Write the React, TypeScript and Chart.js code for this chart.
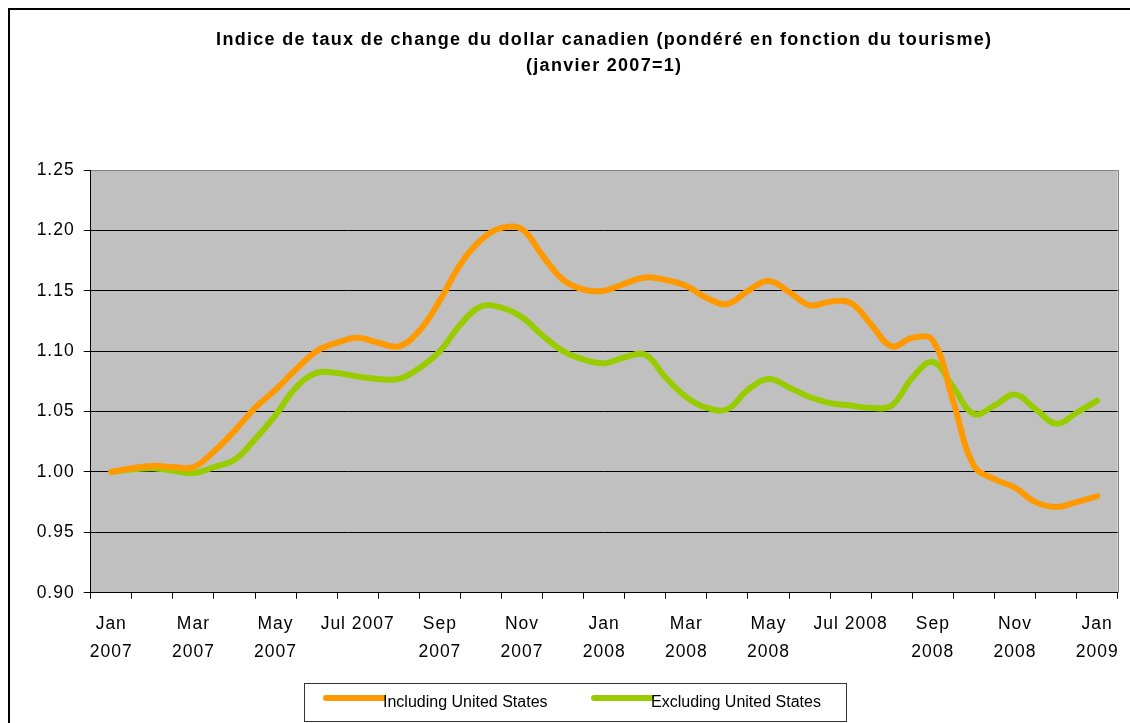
import React, { useEffect, useRef } from "react";
import { Chart, registerables } from "chart.js";

Chart.register(...registerables);

const titleLines = [
  "Indice de taux de change du dollar canadien (pondéré en fonction du tourisme)",
  "(janvier 2007=1)",
];

// positions in months from Jan 2007 (0) to Jan 2009 (24)
const monthPos = [
  0, 0.5, 1, 1.5, 2, 2.5, 3, 3.5, 4, 4.5, 5, 5.5, 6, 6.5, 7, 7.5, 8, 8.5, 9, 9.5,
  10, 10.5, 11, 11.5, 12, 12.5, 13, 13.5, 14, 14.5, 15, 15.5, 16, 16.5, 17, 17.5,
  18, 18.5, 19, 19.5, 20, 20.5, 21, 21.5, 22, 22.5, 23, 23.5, 24,
];

const includingUS = [
  1.0, 1.003, 1.005, 1.004, 1.004, 1.017, 1.034, 1.053, 1.068, 1.085, 1.1, 1.107,
  1.111, 1.107, 1.104, 1.117, 1.142, 1.172, 1.192, 1.202, 1.201, 1.179, 1.159,
  1.151, 1.15, 1.156, 1.161, 1.159, 1.154, 1.144, 1.139, 1.15, 1.158, 1.149,
  1.138, 1.141, 1.14, 1.122, 1.104, 1.111, 1.109, 1.058, 1.005, 0.994, 0.987,
  0.975, 0.971, 0.975, 0.98,
];

const excludingUS = [
  1.0, 1.002, 1.003, 1.001, 0.999, 1.004, 1.01, 1.027, 1.047, 1.07, 1.082, 1.082,
  1.079, 1.077, 1.077, 1.086, 1.1, 1.122, 1.137, 1.136, 1.128, 1.113, 1.1, 1.093,
  1.09, 1.095, 1.097, 1.078, 1.062, 1.053, 1.052, 1.068, 1.077, 1.07, 1.062,
  1.057, 1.055, 1.053, 1.055, 1.078, 1.091, 1.07, 1.048, 1.055, 1.064, 1.052,
  1.04, 1.049, 1.059,
];

const seriesNames = ["Including United States", "Excluding United States"];
const seriesColors = ["#FF9900", "#99CC00"];

const xLabelPos = [0, 2, 4, 6, 8, 10, 12, 14, 16, 18, 20, 22, 24];
const xLabels: (string | string[])[] = [
  ["Jan", "2007"],
  ["Mar", "2007"],
  ["May", "2007"],
  "Jul 2007",
  ["Sep", "2007"],
  ["Nov", "2007"],
  ["Jan", "2008"],
  ["Mar", "2008"],
  ["May", "2008"],
  "Jul 2008",
  ["Sep", "2008"],
  ["Nov", "2008"],
  ["Jan", "2009"],
];

const yTicks = [0.9, 0.95, 1.0, 1.05, 1.1, 1.15, 1.2, 1.25];

const FONT = "'Liberation Sans', Arial, Helvetica, sans-serif";
const SPACING = "1px";

const spacingPlugin = {
  id: "spacing",
  beforeUpdate(chart: any) {
    chart.ctx.letterSpacing = SPACING;
  },
  beforeDraw(chart: any) {
    chart.ctx.letterSpacing = SPACING;
  },
};

const plotBgPlugin = {
  id: "plotBg",
  beforeDraw(chart: any) {
    const { ctx, chartArea } = chart;
    ctx.save();
    ctx.fillStyle = "#C0C0C0";
    ctx.fillRect(chartArea.left, chartArea.top, chartArea.right - chartArea.left, chartArea.bottom - chartArea.top);
    ctx.strokeStyle = "#808080";
    ctx.lineWidth = 1;
    ctx.beginPath();
    const r = Math.round(chartArea.right) + 0.5;
    ctx.moveTo(r, chartArea.top);
    ctx.lineTo(r, chartArea.bottom);
    ctx.stroke();
    ctx.restore();
  },
};

const titlePlugin = {
  id: "customTitle",
  afterDraw(chart: any) {
    const { ctx, chartArea } = chart;
    const cx = (chartArea.left + chartArea.right) / 2;
    ctx.save();
    ctx.letterSpacing = "1.3px";
    ctx.fillStyle = "#000";
    ctx.font = `bold 18px ${FONT}`;
    ctx.textAlign = "center";
    ctx.textBaseline = "middle";
    ctx.fillText(titleLines[0], cx, 30);
    ctx.fillText(titleLines[1], cx, 56);
    ctx.restore();
  },
};

const legendPlugin = {
  id: "customLegend",
  afterDraw(chart: any) {
    const ctx = chart.ctx;
    ctx.save();
    ctx.letterSpacing = "0px";
    ctx.strokeStyle = "#333";
    ctx.lineWidth = 1;
    ctx.strokeRect(294.5, 673.5, 542, 38);
    const items = [
      { x0: 316, x1: 373 },
      { x0: 584, x1: 641 },
    ];
    items.forEach((it, i) => {
      ctx.strokeStyle = seriesColors[i];
      ctx.lineWidth = 6;
      ctx.lineCap = "round";
      ctx.beginPath();
      ctx.moveTo(it.x0, 688);
      ctx.lineTo(it.x1, 688);
      ctx.stroke();
      ctx.fillStyle = "#000";
      ctx.font = `16px ${FONT}`;
      ctx.textBaseline = "middle";
      ctx.textAlign = "left";
      ctx.fillText(seriesNames[i], it.x1, 693);
    });
    ctx.restore();
  },
};

export default function App() {
  const ref = useRef<HTMLCanvasElement | null>(null);

  useEffect(() => {
    if (!ref.current) return;
    const chart = new Chart(ref.current, {
      type: "line",
      data: {
        datasets: [includingUS, excludingUS].map((vals, i) => ({
          label: seriesNames[i],
          data: vals.map((v, j) => ({ x: monthPos[j], y: v })),
          borderColor: seriesColors[i],
          backgroundColor: seriesColors[i],
          borderWidth: 6,
          borderCapStyle: "round",
          borderJoinStyle: "round",
          pointRadius: 0,
          tension: 0.4,
          fill: false,
        })),
      },
      options: {
        animation: false,
        responsive: false,
        devicePixelRatio: 1,
        layout: { padding: { left: 0, right: 12.3, top: 160, bottom: 0 } },
        plugins: {
          legend: { display: false },
          tooltip: { enabled: false },
          title: { display: false },
        },
        scales: {
          x: {
            type: "linear",
            min: -0.5,
            max: 24.5,
            afterBuildTicks: (s: any) => {
              const t: { value: number }[] = [];
              for (let k = 0; k <= 25; k++) {
                t.push({ value: k - 0.5 });
                if (xLabelPos.includes(k)) t.push({ value: k });
              }
              s.ticks = t;
            },
            afterFit: (s: any) => {
              s.height = 130.3;
            },
            ticks: {
              autoSkip: false,
              maxRotation: 0,
              minRotation: 0,
              padding: 11,
              color: "#000",
              font: { family: FONT, size: 17.5, lineHeight: 1.6 },
              callback: (value: any) => {
                const idx = xLabelPos.indexOf(Number(value));
                return idx >= 0 ? xLabels[idx] : "";
              },
            },
            grid: {
              drawOnChartArea: false,
              drawTicks: true,
              tickLength: 6,
              tickColor: (c: any) =>
                c.tick && Math.abs(c.tick.value % 1) === 0.5 ? "#000" : "rgba(0,0,0,0)",
            },
            border: { display: true, color: "#000", width: 1 },
          },
          y: {
            type: "linear",
            min: 0.9,
            max: 1.25,
            afterBuildTicks: (s: any) => {
              s.ticks = yTicks.map((v) => ({ value: v }));
            },
            afterFit: (s: any) => {
              s.width = 80.7;
            },
            ticks: {
              padding: 9,
              color: "#000",
              font: { family: FONT, size: 17.5 },
              callback: (value: any) => Number(value).toFixed(2),
            },
            grid: {
              color: (c: any) =>
                c.tick && Math.abs(c.tick.value - 1.25) < 1e-9 ? "#808080" : "#000",
              lineWidth: 1,
              tickLength: 7,
              tickColor: "#000",
            },
            border: { display: true, color: "#000", width: 1 },
          },
        },
      } as any,
      plugins: [spacingPlugin, plotBgPlugin, titlePlugin, legendPlugin],
    });
    return () => chart.destroy();
  }, []);

  return (
    <div
      style={{
        position: "fixed",
        left: 8,
        top: 8,
        width: 1122,
        height: 715,
        borderTop: "2px solid #000",
        borderLeft: "2px solid #000",
        boxSizing: "border-box",
        background: "#fff",
      }}
    >
      <canvas ref={ref} width={1120} height={713} style={{ display: "block" }} />
    </div>
  );
}
